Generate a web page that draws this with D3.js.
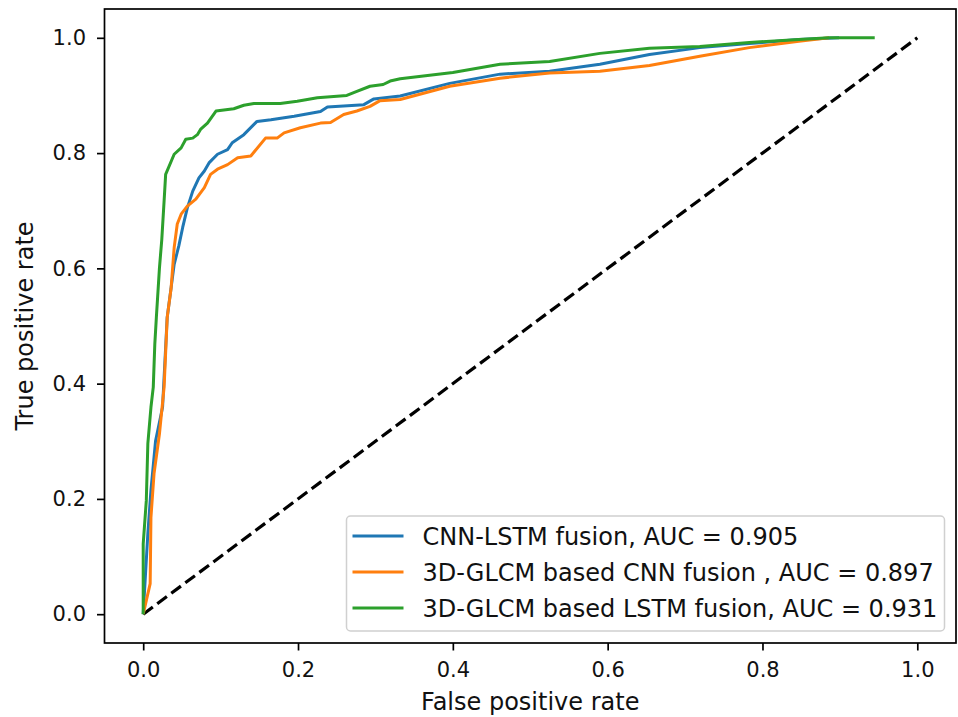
<!DOCTYPE html>
<html lang="en">
<head>
<meta charset="UTF-8">
<title>ROC curves</title>
<script src="https://d3js.org/d3.v7.min.js"></script>
<style>
  body { margin: 0; background: #fff; }
  text { font-family: "DejaVu Sans", sans-serif; fill: #111; }
</style>
</head>
<body>
<div id="my_graph"></div>
<script>
// ROC values
var cnnLstmFpr = [0, .001, .006, .010, .016, .025, .031, .040, .046, .051, .057, .064, .072, .079, .085, .096, .109, .115, .130, .147, .165, .195, .229, .238, .285, .298, .332, .396, .461, .525, .590, .654, .719, .783, .847, .899];
var cnnLstmTpr = [0, .024, .140, .215, .301, .359, .515, .607, .639, .671, .705, .734, .757, .769, .783, .798, .806, .818, .832, .855, .858, .864, .872, .880, .884, .894, .899, .921, .937, .942, .954, .971, .983, .990, .997, 1.0];

var glcmCnnFpr = [0, .009, .010, .014, .021, .027, .031, .036, .040, .044, .049, .057, .068, .079, .087, .096, .109, .122, .139, .158, .173, .182, .203, .229, .242, .259, .276, .293, .306, .332, .396, .461, .525, .590, .654, .719, .783, .847, .886];
var glcmCnnTpr = [0, .053, .168, .244, .313, .394, .515, .565, .636, .677, .694, .708, .720, .740, .763, .772, .780, .792, .795, .826, .826, .835, .844, .852, .853, .867, .873, .881, .891, .893, .916, .930, .939, .942, .952, .968, .983, .994, 1.0];

var glcmLstmFpr = [0, 0, .004, .006, .010, .013, .015, .017, .021, .024, .027, .029, .040, .049, .055, .064, .070, .074, .083, .094, .117, .130, .143, .177, .199, .225, .263, .276, .293, .310, .319, .332, .400, .461, .525, .590, .654, .719, .783, .847, .886, .945];
var glcmLstmTpr = [0, .122, .197, .296, .359, .394, .469, .515, .601, .650, .717, .763, .798, .809, .824, .826, .832, .841, .852, .873, .877, .883, .886, .886, .890, .896, .900, .907, .916, .919, .925, .929, .940, .954, .959, .973, .982, .985, .992, .997, 1.0, 1.0];

var seriesNames = ["CNN-LSTM fusion, AUC = 0.905", "3D-GLCM based CNN fusion , AUC = 0.897", "3D-GLCM based LSTM fusion, AUC = 0.931"];
var seriesColors = ["#1f77b4", "#ff7f0e", "#2ca02c"];
var tickValues = [0, 0.2, 0.4, 0.6, 0.8, 1.0];

var series = [
    {name: seriesNames[0], color: seriesColors[0], fpr: cnnLstmFpr, tpr: cnnLstmTpr},
    {name: seriesNames[1], color: seriesColors[1], fpr: glcmCnnFpr, tpr: glcmCnnTpr},
    {name: seriesNames[2], color: seriesColors[2], fpr: glcmLstmFpr, tpr: glcmLstmTpr}
];

var W = 958, H = 717;
var margin = {top: 9, right: 2, bottom: 74, left: 104.5};
var width = W - margin.left - margin.right,
    height = H - margin.top - margin.bottom;

var svg = d3.select("#my_graph")
    .append("svg")
    .attr("width", W)
    .attr("height", H);

var g = svg.append("g")
    .attr("transform", "translate(" + margin.left + "," + margin.top + ")");

var x = d3.scaleLinear().domain([-0.05, 1.05]).range([0, width]);
var y = d3.scaleLinear().domain([-0.05, 1.05]).range([height, 0]);

// chance diagonal
g.append("line")
    .attr("x1", x(0)).attr("y1", y(0))
    .attr("x2", x(1)).attr("y2", y(1))
    .style("stroke", "#000")
    .style("stroke-width", 3.2)
    .style("stroke-dasharray", "12,5.5");

var line = d3.line()
    .x(function(d) { return x(d[0]); })
    .y(function(d) { return y(d[1]); });

series.forEach(function(s) {
    var pts = s.fpr.map(function(f, i) { return [f, s.tpr[i]]; });
    g.append("path")
        .datum(pts)
        .attr("d", line)
        .style("fill", "none")
        .style("stroke", s.color)
        .style("stroke-width", 3)
        .style("stroke-linejoin", "round");
});

// axes
var fmt = d3.format(".1f");
var xAxis = g.append("g")
    .attr("transform", "translate(0," + height + ")")
    .call(d3.axisBottom(x).tickValues(tickValues).tickFormat(fmt).tickSize(7.5).tickPadding(12).tickSizeOuter(0));
var yAxis = g.append("g")
    .call(d3.axisLeft(y).tickValues(tickValues).tickFormat(fmt).tickSize(7.5).tickPadding(11).tickSizeOuter(0));

[xAxis, yAxis].forEach(function(a) {
    a.select(".domain").remove();
    a.selectAll(".tick line").style("stroke", "#000").style("stroke-width", 1.7);
    a.selectAll(".tick text").style("font-size", "21px").style("font-family", "DejaVu Sans").style("fill", "#111");
});

// frame
g.append("rect")
    .attr("width", width).attr("height", height)
    .style("fill", "none")
    .style("stroke", "#000")
    .style("stroke-width", 1.7);

// legend
var legend = g.append("g")
    .attr("transform", "translate(" + (346.5 - margin.left) + "," + (516 - margin.top) + ")");
legend.append("rect")
    .attr("width", 598).attr("height", 115)
    .attr("rx", 4)
    .style("fill", "rgba(255,255,255,0.8)")
    .style("stroke", "#d0d0d0")
    .style("stroke-width", 1.5);
series.forEach(function(s, i) {
    var ry = 20 + i * 36;
    legend.append("line")
        .attr("x1", 6).attr("x2", 57)
        .attr("y1", ry).attr("y2", ry)
        .style("stroke", s.color)
        .style("stroke-width", 3);
    legend.append("text")
        .attr("x", 76).attr("y", ry)
        .attr("dy", "0.36em")
        .style("font-size", "24px")
        .text(s.name);
});

// axis titles
svg.append("text")
    .attr("x", margin.left + x(0.5))
    .attr("y", 710)
    .attr("text-anchor", "middle")
    .style("font-size", "24px")
    .text("False positive rate");

svg.append("text")
    .attr("transform", "translate(33," + (margin.top + y(0.5)) + ") rotate(-90)")
    .attr("text-anchor", "middle")
    .style("font-size", "24px")
    .text("True positive rate");
</script>
</body>
</html>
